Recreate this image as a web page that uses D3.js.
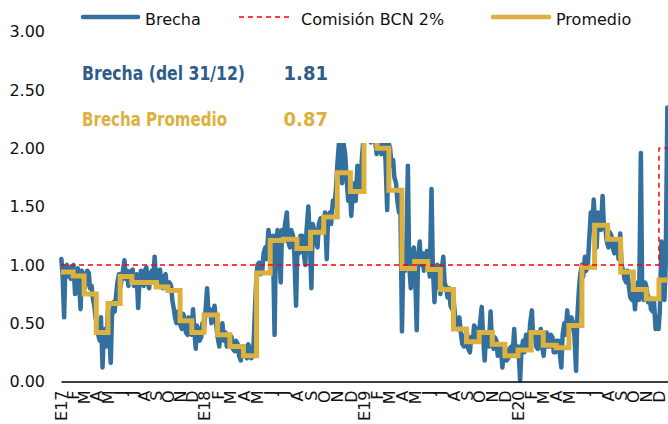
<!DOCTYPE html>
<html><head><meta charset="utf-8">
<script src="https://cdn.jsdelivr.net/npm/d3@7"></script>
<style>body{margin:0;background:#fff} svg{display:block}</style>
</head><body><svg id="c" width="668" height="424"></svg>
<script>
// Brecha readings: start-of-week values (first Monday of each year, then every 7 days)
const brecha2017 = [1.05,0.55,1.00,0.98,0.92,0.75,0.97,0.62,0.92,0.85,0.93,0.82,0.65,0.50,0.35,0.12,0.45,0.62,0.16,0.68,0.75,0.92,0.88,1.04,0.95,0.88,0.96,0.85,0.63,0.95,0.82,0.98,0.80,0.95,1.07,0.88,0.96,0.80,0.92,0.78,0.82,0.62,0.50,0.58,0.45,0.53,0.40,0.50,0.62,0.28,0.44,0.38];
const brecha2018 = [0.45,0.80,0.62,0.55,0.48,0.30,0.50,0.42,0.30,0.38,0.26,0.32,0.18,0.30,0.20,0.28,0.22,0.85,1.02,0.95,1.15,1.30,1.05,0.40,1.30,0.85,1.25,1.45,1.15,1.25,0.65,1.10,1.25,1.00,1.50,0.80,1.30,1.15,1.40,1.30,1.05,1.45,1.55,1.65,2.05,1.70,1.95,1.55,1.42,1.70,1.85,1.65,2.10];
const brecha2019 = [2.20,2.30,2.15,2.05,2.10,1.95,2.05,1.47,2.00,1.90,1.70,1.45,0.43,0.95,1.85,0.80,1.15,0.44,1.20,1.10,1.00,1.00,1.65,0.68,1.00,0.75,1.07,0.80,0.80,0.62,0.55,0.45,0.40,0.30,0.42,0.25,0.35,0.45,0.40,0.64,0.18,0.40,0.60,0.28,0.35,0.25,0.12,0.28,0.20,0.30,0.45,0.22];
const brecha2020 = [0.01,0.35,0.40,0.35,0.61,0.40,0.28,0.45,0.22,0.42,0.30,0.38,0.25,0.35,0.12,0.50,0.61,0.45,0.50,0.09,0.80,1.00,1.07,1.00,1.45,1.56,1.15,1.40,1.59,1.30,1.15,1.25,1.10,1.20,1.27,0.95,0.85,0.80,0.70,0.62,0.85,1.96,0.70,0.80,0.72,0.60,0.45,0.45,1.20,0.70,2.35,1.81];
// Brecha readings: mid-week values (start-of-week + 3 days)
const brechaMid2017 = [0.92,0.98,0.90,0.88,1.00,0.95,0.85,0.95,0.80,0.95,0.80,0.72,0.55,0.40,0.55,0.40,0.30,0.40,0.55,0.60,0.85,0.80,0.95,0.88,0.82,0.95,0.82,0.92,0.85,0.85,0.95,0.85,0.92,0.85,0.90,0.95,0.82,0.90,0.80,0.85,0.70,0.55,0.60,0.48,0.58,0.42,0.55,0.40,0.45,0.48,0.35,0.50];
const brechaMid2018 = [0.58,0.60,0.50,0.65,0.38,0.45,0.35,0.30,0.40,0.28,0.35,0.22,0.30,0.22,0.32,0.20,0.50,1.00,0.92,1.10,1.05,1.18,1.25,1.20,1.15,1.30,1.35,1.20,1.30,1.10,1.15,1.25,1.12,1.30,1.25,1.35,1.20,1.35,1.28,1.45,1.40,1.35,1.50,1.85,1.80,2.05,1.75,1.70,1.60,1.55,1.75,1.90,2.20];
const brechaMid2019 = [2.10,2.05,2.25,1.95,2.20,2.10,1.90,2.05,1.85,1.75,1.55,1.60,1.05,1.10,1.00,1.05,0.95,1.05,1.00,0.95,1.12,0.90,1.00,0.95,0.85,0.95,0.85,0.72,0.65,0.72,0.45,0.55,0.32,0.40,0.28,0.38,0.48,0.35,0.50,0.40,0.38,0.30,0.35,0.38,0.22,0.32,0.25,0.18,0.28,0.22,0.25,0.30];
const brechaMid2020 = [0.25,0.25,0.30,0.50,0.38,0.30,0.40,0.30,0.35,0.30,0.40,0.25,0.35,0.25,0.40,0.40,0.48,0.55,0.40,0.55,0.92,0.90,0.95,1.20,1.30,1.35,1.45,1.30,1.35,1.20,1.28,1.15,1.22,1.05,1.00,0.88,0.95,0.72,0.80,0.75,0.70,0.80,0.85,0.68,0.62,0.70,0.55,0.60,0.80,1.00,2.00,1.81];
const weekStarts = ["2017-01-02","2018-01-01","2019-01-07","2020-01-06"];

// Monthly average (Promedio)
const promedio2017 = [0.94,0.905,0.75,0.42,0.67,0.90,0.85,0.85,0.81,0.78,0.52,0.42];
const promedio2018 = [0.57,0.40,0.30,0.22,0.93,1.21,1.22,1.14,1.28,1.41,1.79,1.63];
const promedio2019 = [2.25,2.00,1.64,0.97,1.03,0.96,0.79,0.45,0.34,0.42,0.32,0.22];
const promedio2020 = [0.27,0.42,0.31,0.29,0.48,0.98,1.34,1.22,0.94,0.79,0.71,0.87];
const years = [2017,2018,2019,2020];

// Comisión BCN 2%
const comisionDates = ["2017-01-01","2020-12-01","2021-01-01"];
const comisionValues = [1,2,2];

const monthLetters = ["E","F","M","A","M","J","J","A","S","O","N","D"];
const yTicks = [0,0.5,1,1.5,2,2.5,3];
const legendLabels = ["Brecha","Comisión BCN 2%","Promedio"];
const summaryLabels = ["Brecha (del 31/12)","Brecha Promedio"];
const summaryValues = ["1.81","0.87"];

const BLUE = "#33709e", GOLD = "#dcb13e", RED = "#ff0000";
const parse = d3.timeParse("%Y-%m-%d");
const svg = d3.select("#c");

const x = d3.scaleTime()
  .domain(["2017-01-01","2018-01-01","2019-01-01","2020-01-01","2021-01-01"].map(parse))
  .range([61, 204, 364, 518, 672]);
const y = d3.scaleLinear().domain([0,3]).range([381.5, 31.7]);

const starts = [brecha2017,brecha2018,brecha2019,brecha2020];
const mids = [brechaMid2017,brechaMid2018,brechaMid2019,brechaMid2020];
const brecha = starts.flatMap((arr,i) => arr.flatMap((v,k) => {
  const d0 = d3.timeDay.offset(parse(weekStarts[i]), 7*k);
  return [{date: d0, v}, {date: d3.timeDay.offset(d0, 3), v: mids[i][k]}];
}));
const promArrs = [promedio2017,promedio2018,promedio2019,promedio2020];
const promedio = promArrs.flatMap((arr,i) => arr.map((v,m) => ({date: new Date(years[i], m, 1), v})));
promedio.push({date: new Date(2021,0,1), v: promedio2020[11]});
const comision = comisionDates.map((d,i) => ({date: parse(d), v: comisionValues[i]}));

const line = d3.line().x(d => x(d.date)).y(d => y(d.v));

svg.append("path").datum(brecha).attr("d", line)
  .attr("fill","none").attr("stroke",BLUE).attr("stroke-width",4.5)
  .attr("stroke-linejoin","round").attr("stroke-linecap","round");
svg.append("path").datum(promedio).attr("d", line.curve(d3.curveStepAfter))
  .attr("fill","none").attr("stroke",GOLD).attr("stroke-width",5);
svg.append("path").datum(comision).attr("d", line.curve(d3.curveStepAfter))
  .attr("fill","none").attr("stroke",RED).attr("stroke-width",1.5).attr("stroke-dasharray","5,4");

// white text box overlaying the plot
svg.append("rect").attr("x",66).attr("y",40).attr("width",500).attr("height",103).attr("fill","#fff");

// Y axis
const yAxis = svg.append("g").attr("transform","translate(50,0)")
  .call(d3.axisLeft(y).tickValues(yTicks).tickFormat(d3.format(".2f")).tickSize(0).tickPadding(5));
yAxis.select(".domain").remove();
yAxis.selectAll("text").attr("font-family","DejaVu Sans").attr("font-size",16).attr("fill","#111");

// X axis
const monthDates = years.flatMap(yr => d3.range(12).map(m => new Date(yr, m, 1)));
const xAxis = svg.append("g").attr("transform","translate(0,381.5)")
  .call(d3.axisBottom(x).tickValues(monthDates)
    .tickFormat(d => monthLetters[d.getMonth()] + (d.getMonth()===0 ? String(d.getFullYear()).slice(2) : ""))
    .tickSize(0).tickSizeOuter(0));
xAxis.select(".domain").attr("stroke","#000").attr("stroke-width",1.6);
xAxis.selectAll("text").attr("transform","rotate(-90)").attr("text-anchor","end")
  .attr("x",-9).attr("y",0).attr("dy","0.35em")
  .attr("font-family","DejaVu Sans").attr("font-size",16).attr("fill","#111");

// Legend
const lg = svg.append("g").attr("font-family","DejaVu Sans").attr("font-size",16).attr("fill","#111");
lg.append("line").attr("x1",83).attr("x2",138).attr("y1",17).attr("y2",17)
  .attr("stroke",BLUE).attr("stroke-width",4.5).attr("stroke-linecap","round");
lg.append("text").attr("x",145).attr("y",25).text(legendLabels[0]);
lg.append("line").attr("x1",239).attr("x2",291).attr("y1",17).attr("y2",17)
  .attr("stroke",RED).attr("stroke-width",1.5).attr("stroke-dasharray","5,4");
lg.append("text").attr("x",301).attr("y",25).text(legendLabels[1]);
lg.append("line").attr("x1",493).attr("x2",549).attr("y1",17).attr("y2",17)
  .attr("stroke",GOLD).attr("stroke-width",4.5).attr("stroke-linecap","round");
lg.append("text").attr("x",556).attr("y",25).text(legendLabels[2]);

// Summary texts
const sumColors = ["#2f5d87", "#dcb13e"];
const sumY = [80, 126];
const sumW = [163, 145];
summaryLabels.forEach((t,i) => {
  svg.append("text").attr("x",82).attr("y",sumY[i]).text(t)
    .attr("font-family","DejaVu Sans Condensed, DejaVu Sans").attr("font-stretch","condensed")
    .attr("font-weight","bold").attr("font-size",20).attr("fill",sumColors[i])
    .attr("textLength",sumW[i]).attr("lengthAdjust","spacingAndGlyphs");
  svg.append("text").attr("x",328).attr("y",sumY[i]).attr("text-anchor","end").text(summaryValues[i])
    .attr("font-family","DejaVu Sans Condensed, DejaVu Sans").attr("font-stretch","condensed")
    .attr("font-weight","bold").attr("font-size",20).attr("fill",sumColors[i]);
});
</script></body></html>
